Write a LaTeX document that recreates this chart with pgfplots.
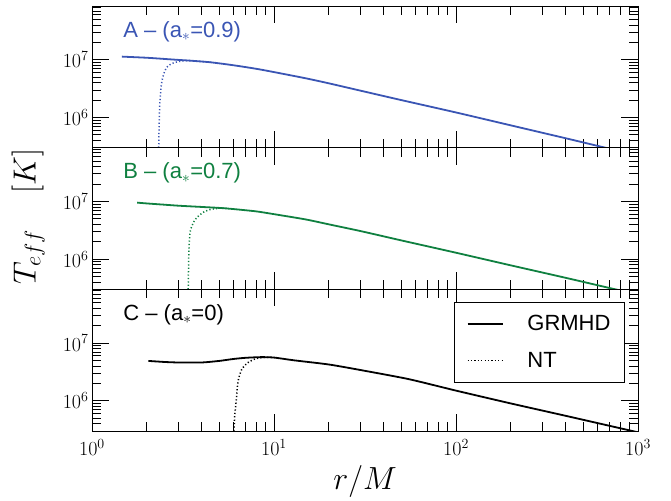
\RequirePackage{fix-cm}
\documentclass[border=0pt]{standalone}
\usepackage{pgfplots}
\pgfplotsset{compat=1.18}
\usepackage{fontspec}
\setmainfont{Liberation Sans}
\definecolor{cA}{RGB}{58,85,180}
\definecolor{cB}{RGB}{15,128,64}
\tikzset{grmhd/.style={line width=1.8pt}, nt/.style={line width=1.5pt, dash pattern=on 1.2pt off 2.2pt}}
\begin{document}
\begin{tikzpicture}
\path (-92pt,-69pt) rectangle (579pt,431pt);
% Panel A
\begin{axis}[scale only axis, width=546pt, height=141.67pt,
  xmode=log, ymode=log, xmin=1, xmax=1000, ymin=3e5, ymax=8.5e7,
  xtick={1,10,100,1000}, ytick={1e6,1e7},
  minor xtick={2,3,4,5,6,7,8,9,20,30,40,50,60,70,80,90,200,300,400,500,600,700,800,900},
  minor ytick={4e5,5e5,6e5,7e5,8e5,9e5,2e6,3e6,4e6,5e6,6e6,7e6,8e6,9e6,2e7,3e7,4e7,5e7,6e7,7e7,8e7},
  tick align=inside, major tick length=17pt, minor tick length=9pt,
  tick style={black, line width=0.7pt},
  axis line style={line width=0.9pt},
  tick label style={font=\fontsize{20}{22}\selectfont},
  at={(0pt,283.33pt)}, anchor=south west, xticklabels={}]
\addplot[cA, nt, smooth, tension=0.4] coordinates {(2.32,2e5) (2.34,8e5) (2.36,1.8e6) (2.40,3.5e6) (2.45,5e6) (2.52,6.5e6) (2.6,7.6e6) (2.75,8.6e6) (3.0,9.3e6) (3.3,9.6e6) (3.7,9.5e6) (4.5,9.0e6)};
\addplot[cA, grmhd, smooth, tension=0.4] coordinates {(1.46,1.13e7) (2,1.08e7) (2.5,1.03e7) (3,0.99e7) (3.5,0.96e7) (4.5,0.90e7) (6,0.80e7) (8,0.695e7) (10,0.61e7) (15,4.75e6) (20,3.9e6) (30,2.9e6) (50,2.0e6) (100,1.22e6) (200,7.3e5) (400,4.37e5) (660,3.0e5) (1000,2.22e5)};
\node[anchor=base west, text=cA, font=\fontsize{22}{24}\selectfont] at (rel axis cs:0.051,0.78) {A -- (a$_{\ast}$=0.9)};
\end{axis}
% Panel B
\begin{axis}[scale only axis, width=546pt, height=141.67pt,
  xmode=log, ymode=log, xmin=1, xmax=1000, ymin=3e5, ymax=8.5e7,
  xtick={1,10,100,1000}, ytick={1e6,1e7},
  minor xtick={2,3,4,5,6,7,8,9,20,30,40,50,60,70,80,90,200,300,400,500,600,700,800,900},
  minor ytick={4e5,5e5,6e5,7e5,8e5,9e5,2e6,3e6,4e6,5e6,6e6,7e6,8e6,9e6,2e7,3e7,4e7,5e7,6e7,7e7,8e7},
  tick align=inside, major tick length=17pt, minor tick length=9pt,
  tick style={black, line width=0.7pt},
  axis line style={line width=0.9pt},
  tick label style={font=\fontsize{20}{22}\selectfont},
  at={(0pt,141.67pt)}, anchor=south west, xticklabels={},
  ylabel={$T_{eff}$\hspace{36pt}$[K]$},
  ylabel style={at={(rel axis cs:-0.117,0.512)}, anchor=center, font=\fontsize{32}{34}\selectfont}]
\addplot[cB, nt, smooth, tension=0.4] coordinates {(3.37,2e5) (3.39,6e5) (3.41,1.5e6) (3.45,2.7e6) (3.5,3.4e6) (3.65,4.6e6) (3.83,5.5e6) (4.1,6.5e6) (4.45,7.2e6) (5,7.6e6) (5.5,7.6e6)};
\addplot[cB, grmhd, smooth, tension=0.4] coordinates {(1.77,9.5e6) (2,9.2e6) (2.5,8.75e6) (3,8.4e6) (4,8.0e6) (5,7.7e6) (6,7.35e6) (8,6.7e6) (10,6.0e6) (15,4.85e6) (20,4.0e6) (30,3.05e6) (50,2.11e6) (100,1.29e6) (200,7.8e5) (400,4.75e5) (750,3.0e5) (1000,2.46e5)};
\node[anchor=base west, text=cB, font=\fontsize{22}{24}\selectfont] at (rel axis cs:0.051,0.78) {B -- (a$_{\ast}$=0.7)};
\end{axis}
% Panel C
\begin{axis}[scale only axis, width=546pt, height=141.67pt,
  xmode=log, ymode=log, xmin=1, xmax=1000, ymin=3e5, ymax=8.5e7,
  xtick={1,10,100,1000}, ytick={1e6,1e7},
  minor xtick={2,3,4,5,6,7,8,9,20,30,40,50,60,70,80,90,200,300,400,500,600,700,800,900},
  minor ytick={4e5,5e5,6e5,7e5,8e5,9e5,2e6,3e6,4e6,5e6,6e6,7e6,8e6,9e6,2e7,3e7,4e7,5e7,6e7,7e7,8e7},
  tick align=inside, major tick length=17pt, minor tick length=9pt,
  tick style={black, line width=0.7pt},
  axis line style={line width=0.9pt},
  tick label style={font=\fontsize{20}{22}\selectfont},
  xticklabel style={yshift=-5pt},
  at={(0pt,0pt)}, anchor=south west,
  xlabel={$r/M$},
  xlabel style={at={(rel axis cs:0.5,-0.355)}, anchor=center, font=\fontsize{32}{34}\selectfont},
  legend style={at={(rel axis cs:0.976,0.91)}, anchor=north east, draw=black, line width=0.8pt,
    font=\fontsize{22}{24}\selectfont, inner xsep=12pt, inner ysep=11pt, row sep=16pt,
    /tikz/every odd column/.append style={column sep=22pt}},
  legend image code/.code={\draw[#1] (0pt,0pt) -- (35pt,0pt);},
  legend cell align=left]
\addlegendimage{black, grmhd}
\addlegendentry{GRMHD}
\addlegendimage{black, nt}
\addlegendentry{NT}
\addplot[black, nt, forget plot, smooth, tension=0.4] coordinates {(6.0,2e5) (6.02,3e5) (6.1,6e5) (6.2,1.0e6) (6.35,2.2e6) (6.65,3.5e6) (7.2,4.6e6) (8.0,5.4e6) (9,5.65e6) (10,5.6e6)};
\addplot[black, grmhd, forget plot, smooth, tension=0.4] coordinates {(2.04,4.9e6) (2.5,4.7e6) (3,4.6e6) (4,4.6e6) (5,4.9e6) (6,5.3e6) (7,5.55e6) (8.5,5.7e6) (10,5.6e6) (13,5.0e6) (20,4.25e6) (30,3.4e6) (55,2.37e6) (100,1.5e6) (200,9.0e5) (400,5.5e5) (930,3.0e5) (1000,2.85e5)};
\node[anchor=base west, text=black, font=\fontsize{22}{24}\selectfont] at (rel axis cs:0.051,0.78) {C -- (a$_{\ast}$=0)};
\end{axis}
\end{tikzpicture}
\end{document}
